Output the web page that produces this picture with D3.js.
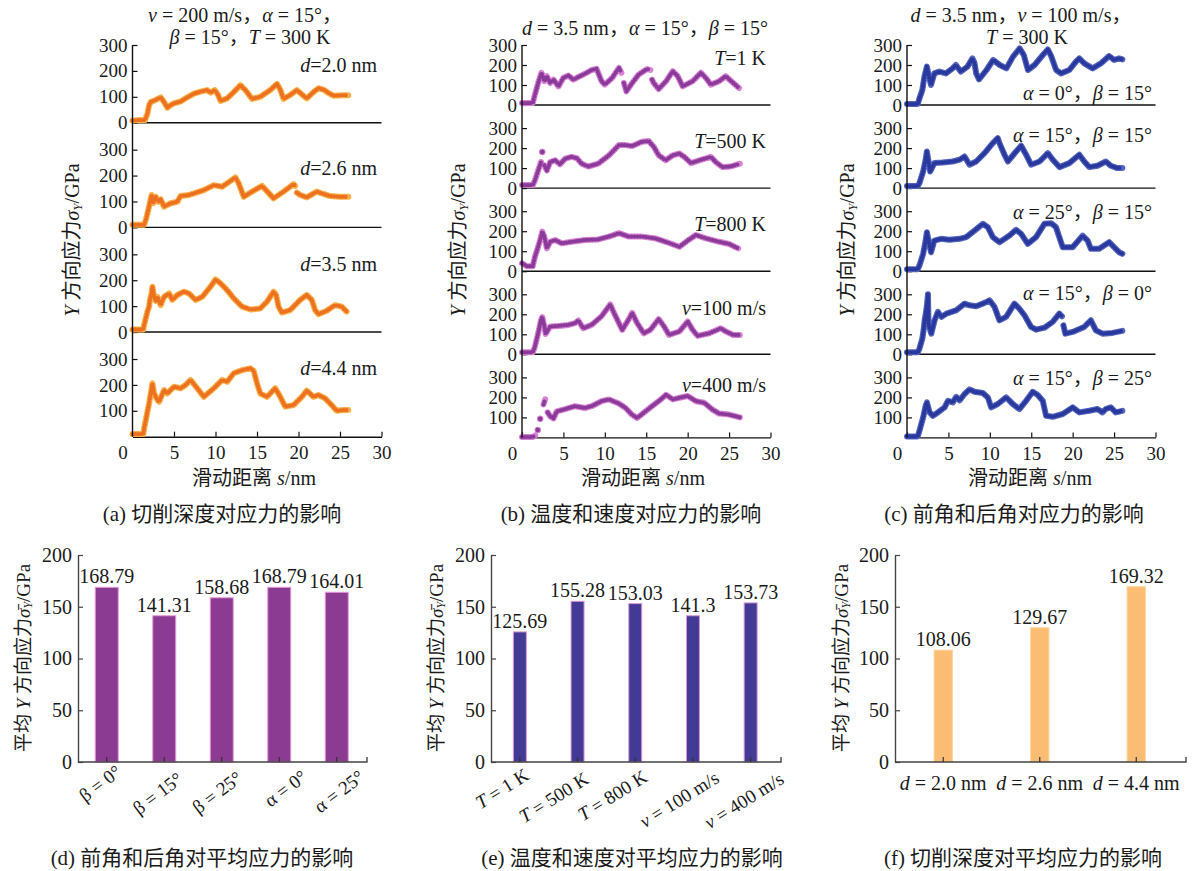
<!DOCTYPE html>
<html>
<head>
<meta charset="utf-8">
<script src="https://cdn.jsdelivr.net/npm/d3@7"></script>
<style>
  body { margin: 0; background: #fff; }
  svg text { font-family: "Liberation Serif", "Noto Sans CJK SC", serif; fill: #1a1a1a; }
</style>
</head>
<body>
<svg id="fig" width="1198" height="871"></svg>
<script>
// ---------- stress histories: [sliding distance s (nm), σY (GPa)]; null breaks the trace ----------
// (a) cutting depth
const stressD20 = [[0,8],[0.8,10],[1.5,10],[1.8,35],[2.0,68],[2.2,80],[2.8,88],[3.4,98],[3.8,80],[4.2,58],[4.6,68],[5.0,75],[5.8,82],[6.6,98],[7.4,112],[8.2,120],[9.0,126],[9.4,116],[9.9,126],[10.3,108],[10.6,84],[11.4,94],[12.2,118],[13.0,145],[13.6,126],[14.4,92],[15.4,100],[16.6,126],[17.4,150],[17.8,128],[18.2,92],[19.0,107],[19.8,126],[20.6,104],[21.0,94],[21.8,118],[22.4,133],[23.0,128],[23.6,115],[24.2,104],[25.4,106],[26.0,106]];
const stressD26 = [[0,10],[1.4,10],[1.6,28],[1.9,67],[2.3,125],[2.5,93],[2.8,118],[3.1,99],[3.4,108],[3.8,80],[4.6,93],[5.4,99],[5.8,121],[6.8,125],[7.4,131],[8.6,144],[9.8,163],[10.8,157],[11.4,170],[12.4,193],[12.8,170],[13.4,118],[14.4,138],[15.6,160],[16.2,140],[17.0,112],[18.2,138],[19.4,167],[19.6,160],null,[19.8,134],[20.2,125],[21.0,116],[22.2,138],[23.0,129],[23.8,121],[25.0,118],[26.0,118]];
const stressD35 = [[0,10],[1.3,10],[1.4,27],[1.6,53],[1.8,79],[2.0,98],[2.1,124],[2.3,149],[2.4,175],[2.6,136],[2.8,120],[3.0,136],[3.4,104],[3.8,136],[4.4,149],[4.8,124],[5.4,143],[6.2,156],[6.8,149],[7.6,124],[8.4,136],[9.4,175],[10.0,203],[10.6,188],[11.4,162],[12.2,130],[13.2,98],[14.2,87],[15.4,91],[16.2,117],[17.0,156],[17.3,143],[17.6,98],[18.0,75],[19.0,85],[20.2,124],[21.0,143],[21.6,124],[22.0,85],[22.4,69],[23.4,82],[24.4,104],[25.2,98],[25.8,79]];
const stressD44 = [[0,10],[1.3,10],[1.4,32],[1.6,64],[1.8,97],[2.0,129],[2.2,167],[2.4,206],[2.6,167],[3.0,142],[3.2,135],[3.8,180],[4.2,167],[5.0,193],[5.8,187],[6.4,200],[7.0,219],[7.8,187],[8.6,154],[9.8,187],[10.8,219],[11.4,212],[12.2,245],[13.2,257],[14.2,264],[14.6,255],[15.0,206],[15.4,167],[16.2,154],[17.2,187],[17.8,154],[18.4,116],[19.4,122],[20.4,154],[21.0,178],[21.8,154],[22.4,161],[23.2,148],[24.0,122],[24.6,100],[25.4,103],[26.0,103]];

// (b) temperature and speed
const stressT1 = [[0,10],[1.3,10],[1.5,42],[1.95,110],[2.35,161],[2.7,119],[3.0,144],[3.4,110],[3.8,127],[4.4,93],[5.0,136],[5.6,147],[6.2,127],[7.0,144],[7.8,161],[8.4,175],[9.0,181],[9.6,119],[10.0,102],[10.9,136],[11.7,186],[12.0,161],null,[12.3,110],[12.6,68],[13.3,110],[14.1,153],[15.1,180],[15.5,175],null,[15.7,127],[15.9,110],[16.5,80],[17.4,119],[18.2,169],[18.8,144],[19.4,93],[20.6,119],[21.6,161],[22.2,135],[22.8,102],[23.8,119],[24.6,144],[25.5,110],[26.2,85]];
const stressT500 = [[0,15],[1.3,15],[1.55,37],[1.95,88],[2.3,130],null,[2.45,181],null,[2.7,114],[3.0,88],[3.4,130],[4.0,139],[4.6,119],[5.2,147],[6.0,156],[6.6,150],[7.2,122],[8.0,108],[9.2,122],[10.5,164],[11.7,215],[12.5,215],[13.3,210],[14.5,232],[15.3,235],[15.9,207],[16.5,164],[17.35,139],[18.2,164],[19.0,173],[19.6,156],[20.4,125],[21.4,139],[22.8,156],[23.4,130],[24.2,105],[25.2,108],[26.3,122]];
const stressT800 = [[0,40],[0.6,25],[1.3,25],[1.55,71],[1.95,122],[2.3,173],[2.45,198],[2.7,173],[3.0,114],[3.4,147],[4.0,156],[4.8,139],[6.0,147],[7.6,156],[9.2,159],[10.5,173],[11.7,190],[12.9,173],[14.5,173],[16.1,164],[17.35,147],[19.0,122],[20.2,159],[21.0,181],[22.2,164],[23.8,147],[25.0,136],[26.1,114]];
const stressV100 = [[0,10],[1.3,10],[1.55,37],[1.95,105],[2.3,173],[2.45,186],[2.7,140],[2.85,102],[3.4,139],[4.4,142],[5.6,147],[6.4,156],[6.8,169],[7.4,130],[8.4,147],[9.6,190],[10.65,249],[11.1,207],[11.7,156],[12.1,122],[12.9,176],[13.3,207],[13.9,156],[14.7,105],[15.5,122],[16.5,176],[17.15,139],[17.75,97],[19.0,114],[20.0,164],[20.6,122],[21.2,92],[22.6,105],[24.0,130],[24.6,114],[25.5,97],[26.3,97]];
const stressV400 = [[0,2],[1.3,2],[1.6,10],null,[1.9,37],null,[2.2,93],null,[2.6,165],[2.8,190],null,[3.1,125],[3.4,105],[3.8,95],[4.2,130],[5.0,139],[6.4,156],[7.6,147],[8.4,156],[9.6,181],[10.5,190],[11.7,169],[12.5,147],[13.3,113],[13.9,97],[14.9,130],[15.7,156],[16.5,181],[17.4,213],[18.2,190],[19.0,198],[20.0,207],[21.0,181],[22.0,173],[23.0,139],[23.8,119],[25.0,114],[26.3,100]];

// (c) rake angle α and clearance angle β
const stressA0B15 = [[0,5],[1.3,5],[1.5,33],[1.85,75],[2.1,142],[2.4,192],[2.65,142],[2.9,100],[3.3,158],[3.9,167],[4.7,158],[5.5,183],[5.9,200],[6.5,167],[7.3,192],[7.9,233],[8.15,210],[8.35,158],[8.7,128],[9.6,175],[10.4,225],[11.2,200],[12.0,183],[12.8,242],[13.6,283],[14.1,250],[14.6,175],[15.4,200],[16.4,250],[17.0,278],[17.4,245],[18.0,175],[18.6,158],[19.6,175],[20.4,217],[20.8,233],[21.4,208],[22.4,183],[23.4,208],[24.4,245],[25.0,225],[25.6,233],[26.0,228]];
const stressA15B15 = [[0,10],[1.3,10],[1.5,25],[1.95,83],[2.25,142],[2.4,183],[2.65,120],[2.8,83],[3.3,125],[4.3,128],[5.5,133],[6.35,142],[6.95,158],[7.55,117],[8.35,133],[9.36,175],[10.36,225],[10.96,250],[11.16,225],[11.77,167],[12.17,133],[13.17,183],[13.78,212],[14.38,167],[14.98,117],[16.0,133],[17.0,175],[17.6,142],[18.4,105],[19.6,125],[20.8,167],[21.4,133],[22.0,105],[23.0,112],[24.0,133],[24.6,112],[25.4,100],[26.0,100]];
const stressA25B15 = [[0,10],[1.3,10],[1.5,28],[1.95,87],[2.25,153],[2.4,195],[2.65,145],[2.9,95],[3.3,153],[4.1,162],[5.1,157],[6.35,162],[7.15,170],[8.15,203],[9.16,237],[9.76,220],[10.36,170],[11.16,145],[12.37,178],[13.17,207],[13.78,187],[14.58,137],[15.58,170],[16.59,237],[17.39,240],[17.99,220],[18.39,170],[18.8,120],[20.0,120],[21.2,178],[21.8,153],[22.2,112],[23.2,112],[24.4,145],[25.0,120],[25.6,95],[26.0,87]];
const stressA15B0 = [[0,10],[1.3,10],[1.5,28],[1.85,78],[2.0,120],[2.13,170],[2.33,220],[2.45,262],[2.53,300],[2.6,150],[2.93,103],[3.33,170],[3.73,212],[4.14,187],[4.74,203],[5.94,220],[6.95,253],[7.55,245],[8.35,240],[9.36,257],[9.96,270],[10.56,237],[11.16,170],[11.97,187],[12.97,253],[13.57,228],[14.18,195],[14.98,137],[15.58,123],[16.59,133],[17.59,162],[18.39,203],[18.71,190],null,[18.88,145],[19.12,103],[20.0,112],[21.4,137],[22.2,170],[22.8,120],[23.6,103],[24.8,107],[26.0,117]];
const stressA15B25 = [[0,5],[1.3,5],[1.5,33],[1.95,100],[2.25,158],[2.41,175],[2.73,125],[3.13,108],[3.73,125],[4.54,150],[4.94,183],[5.54,175],[5.94,203],[6.35,185],[6.95,217],[7.55,240],[8.15,228],[9.16,222],[9.76,200],[10.16,150],[10.96,167],[11.97,200],[12.77,167],[13.57,142],[14.38,183],[15.18,228],[15.78,212],[16.39,183],[16.79,108],[17.59,103],[18.8,117],[20.0,150],[20.8,125],[22.0,133],[23.0,142],[23.6,125],[24.0,142],[24.6,150],[25.2,125],[26.0,133]];

// curve labels (* marks italic)
const depthLabels = ["*d*=2.0 nm", "*d*=2.6 nm", "*d*=3.5 nm", "*d*=4.4 nm"];
const tempSpeedLabels = ["*T*=1 K", "*T*=500 K", "*T*=800 K", "*v*=100 m/s", "*v*=400 m/s"];
const angleLabels = ["*α* = 0°，*β* = 15°", "*α* = 15°，*β* = 15°", "*α* = 25°，*β* = 15°", "*α* = 15°，*β* = 0°", "*α* = 15°，*β* = 25°"];

const stressTicks = [0, 100, 200, 300];
const distanceTicks = [0, 5, 10, 15, 20, 25, 30];

// ---------- mean stresses ----------
const angleCases = ["β = 0°", "β = 15°", "β = 25°", "α = 0°", "α = 25°"];
const angleMeans = [168.79, 141.31, 158.68, 168.79, 164.01];
const tempSpeedCases = ["*T* = 1 K", "*T* = 500 K", "*T* = 800 K", "*v* = 100 m/s", "*v* = 400 m/s"];
const tempSpeedMeans = [125.69, 155.28, 153.03, 141.3, 153.73];
const depthCases = ["*d* = 2.0 nm", "*d* = 2.6 nm", "*d* = 4.4 nm"];
const depthMeans = [108.06, 129.67, 169.32];
const meanTicks = [0, 50, 100, 150, 200];

const svg = d3.select("#fig");

// text with *italic* and _subscript_ runs
function rich(sel, str, subSize = 12) {
  const parts = str.split(/(\*[^*]+\*|_[^_]+_)/).filter(s => s.length);
  let lowered = false;
  parts.forEach(p => {
    const t = sel.append("tspan");
    if (p[0] === "_") {
      t.text(p.slice(1, -1)).attr("font-style", "italic").attr("font-size", subSize).attr("dy", 5);
      lowered = true;
      return;
    }
    if (p[0] === "*") t.text(p.slice(1, -1)).attr("font-style", "italic");
    else t.text(p);
    if (lowered) { t.attr("dy", -5); lowered = false; }
  });
  return sel;
}

function label(x, y, str, size, anchor = "middle", rotate = 0) {
  const t = svg.append("text")
    .attr("font-size", size)
    .attr("text-anchor", anchor)
    .attr("dominant-baseline", "central")
    .attr("transform", `translate(${x},${y}) rotate(${rotate})`);
  return rich(t, str, Math.round(size * 0.65));
}

// ---------- stacked stress–distance panels ----------
function tracePanel(cfg) {
  const g = svg.append("g");
  const x = d3.scaleLinear().domain([0, 30]).range([cfg.x0, cfg.x1]);
  const n = cfg.series.length;
  const lastBase = cfg.base0 + (n - 1) * cfg.step;

  cfg.series.forEach((data, i) => {
    const base = cfg.base0 + i * cfg.step;
    const y = d3.scaleLinear().domain([0, 300]).range([base, base - cfg.h300]);
    const last = i === n - 1;

    const ya = g.append("g").attr("transform", `translate(${cfg.x0},0)`)
      .call(d3.axisLeft(y).tickValues(last ? stressTicks.slice(1) : stressTicks)
        .tickSize(-5).tickPadding(5).tickFormat(d3.format("d")));
    ya.select(".domain").remove();
    ya.selectAll("line").attr("stroke", "#111").attr("stroke-width", 1.2);
    ya.selectAll("text").attr("font-size", 19).attr("font-family", "Liberation Serif").attr("fill", "#1a1a1a");

    if (!last) {
      g.append("line").attr("x1", cfg.x0).attr("x2", cfg.x1).attr("y1", base).attr("y2", base)
        .attr("stroke", "#111").attr("stroke-width", 1.4);
    } else {
      const xa = g.append("g").attr("transform", `translate(0,${base})`)
        .call(d3.axisBottom(x).tickValues(distanceTicks).tickSize(-5).tickPadding(9).tickSizeOuter(0));
      xa.select(".domain").attr("stroke", "#111").attr("stroke-width", 1.4);
      xa.selectAll("line").attr("stroke", "#111").attr("stroke-width", 1.2);
      xa.selectAll("text").attr("font-size", 19).attr("font-family", "Liberation Serif").attr("fill", "#1a1a1a");
      xa.selectAll(".tick").filter(d => d === 0).select("text").attr("dx", -10);
    }

    const line = d3.line().defined(d => d != null).x(d => x(d[0])).y(d => y(d[1]));
    g.append("path").attr("d", line(data)).attr("fill", "none")
      .attr("stroke", cfg.halo).attr("stroke-width", 6)
      .attr("stroke-linejoin", "round").attr("stroke-linecap", "round");
    g.append("path").attr("d", line(data)).attr("fill", "none")
      .attr("stroke", cfg.core).attr("stroke-width", 4.2)
      .attr("stroke-linejoin", "round").attr("stroke-linecap", "round")
      .attr("stroke-dasharray", "0 2.9");
    // lone samples between breaks
    const lone = data.filter((d, k) => d && !data[k - 1] && !data[k + 1] && k > 0);
    g.selectAll(null).data(lone).join("circle")
      .attr("cx", d => x(d[0])).attr("cy", d => y(d[1])).attr("r", 2.8)
      .attr("fill", cfg.core).attr("stroke", cfg.halo).attr("stroke-width", 1);

    label(cfg.labelX, base - cfg.labelRise[i], cfg.labels[i], 20, "end");
  });

  g.append("line").attr("x1", cfg.x0).attr("x2", cfg.x0)
    .attr("y1", cfg.base0 - cfg.h300).attr("y2", lastBase)
    .attr("stroke", "#111").attr("stroke-width", 1.4);

  cfg.title.forEach(t => label(t[0], t[1], t[2], 20));
  label(cfg.yTitleX, 240, "*Y* 方向应力*σ*_Y_/GPa", 20, "middle", -90);
  label(cfg.xTitleX, 478, "滑动距离 *s*/nm", 20);
  label(cfg.captionX, 514, cfg.caption, 21);
}

tracePanel({
  series: [stressD20, stressD26, stressD35, stressD44], labels: depthLabels,
  x0: 132.5, x1: 381.5, base0: 122.7, step: 104.67, h300: 77.7,
  core: "#ec7020", halo: "#f8b14a",
  labelX: 377, labelRise: [58, 59, 68, 69],
  title: [[245, 15, "*v* = 200 m/s，*α* = 15°，"], [250, 37, "*β* = 15°，*T* = 300 K"]],
  yTitleX: 72, xTitleX: 254, captionX: 222, caption: "(a) 切削深度对应力的影响"
});

tracePanel({
  series: [stressT1, stressT500, stressT800, stressV100, stressV400], labels: tempSpeedLabels,
  x0: 522, x1: 770.5, base0: 105, step: 83.1, h300: 60,
  core: "#8a3a98", halo: "#d882d4",
  labelX: 766, labelRise: [47, 47, 47, 46, 52],
  title: [[645, 28, "*d* = 3.5 nm，*α* = 15°，*β* = 15°"]],
  yTitleX: 458, xTitleX: 643, captionX: 631, caption: "(b) 温度和速度对应力的影响"
});

tracePanel({
  series: [stressA0B15, stressA15B15, stressA25B15, stressA15B0, stressA15B25], labels: angleLabels,
  x0: 907, x1: 1155.5, base0: 105, step: 83.1, h300: 60,
  core: "#28389c", halo: "#5565bd",
  labelX: 1152, labelRise: [12, 53, 59, 61, 59],
  title: [[1021, 15, "*d* = 3.5 nm，*v* = 100 m/s，"], [1027, 37, "*T* = 300 K"]],
  yTitleX: 847, xTitleX: 1030, captionX: 1014, caption: "(c) 前角和后角对应力的影响"
});

// ---------- mean-stress bar panels ----------
function barPanel(cfg) {
  const g = svg.append("g");
  const x = d3.scaleBand().domain(cfg.cases).range([cfg.x0, cfg.x1])
    .paddingInner(cfg.pad).paddingOuter(cfg.pad / 2);
  const y = d3.scaleLinear().domain([0, 200]).range([762, 555]);

  g.selectAll(null).data(cfg.values).join("rect")
    .attr("x", (d, i) => x(cfg.cases[i])).attr("width", x.bandwidth())
    .attr("y", d => y(d)).attr("height", d => y(0) - y(d))
    .attr("fill", cfg.fill).attr("stroke", cfg.edge).attr("stroke-width", 1);

  g.selectAll(null).data(cfg.values).join("text")
    .attr("x", (d, i) => x(cfg.cases[i]) + x.bandwidth() / 2)
    .attr("y", d => y(d) - 4)
    .attr("text-anchor", "middle").attr("font-size", 20)
    .text(d => d);

  const ya = g.append("g").attr("transform", `translate(${cfg.x0},0)`)
    .call(d3.axisLeft(y).tickValues(meanTicks).tickSize(-5).tickPadding(6).tickSizeOuter(0));
  ya.select(".domain").attr("stroke", "#444").attr("stroke-width", 1.4);
  ya.selectAll("line").attr("stroke", "#444").attr("stroke-width", 1.2);
  ya.selectAll("text").attr("font-size", 20).attr("font-family", "Liberation Serif").attr("fill", "#1a1a1a");

  const xa = g.append("g").attr("transform", `translate(0,${y(0)})`)
    .call(d3.axisBottom(x).tickSize(-5).tickSizeOuter(0).tickFormat(""));
  xa.select(".domain").attr("stroke", "#444").attr("stroke-width", 1.4)
    .attr("d", `M${cfg.x0},0H${cfg.axisEnd}V-5`);
  xa.selectAll("line").attr("stroke", "#333").attr("stroke-width", 1.2);

  cfg.cases.forEach((c, i) => {
    const cx = x(c) + x.bandwidth() / 2;
    if (cfg.angle) label(cx + cfg.dx[i], cfg.ly[i], c, 19, "middle", cfg.angle);
    else label(cx, 783, c, 20);
  });

  label(cfg.yTitleX, 658, "平均 *Y* 方向应力*σ̄*_Y_/GPa", 19, "middle", -90);
  label(cfg.captionX, 858, cfg.caption, 21);
}

barPanel({
  cases: angleCases, values: angleMeans, x0: 78, x1: 365.5, pad: 0.6, axisEnd: 367,
  fill: "#8c3b93", edge: "#e79bd8", angle: -37,
  dx: [-7, -7, -5, 6, 2], ly: [783, 793, 792, 788, 791],
  yTitleX: 23, captionX: 202, caption: "(d) 前角和后角对平均应力的影响"
});

barPanel({
  cases: tempSpeedCases, values: tempSpeedMeans, x0: 491, x1: 779.5, pad: 0.775, axisEnd: 781,
  fill: "#433a95", edge: "#d89ad2", angle: -32,
  dx: [-18, -24, -23, -14, -7], ly: [788, 797, 795, 799, 800],
  yTitleX: 436, captionX: 632, caption: "(e) 温度和速度对平均应力的影响"
});

barPanel({
  cases: depthCases, values: depthMeans, x0: 895, x1: 1184.5, pad: 0.81, axisEnd: 1186,
  fill: "#fbbd74", edge: "#fdd49a", angle: 0,
  yTitleX: 841, captionX: 1023, caption: "(f) 切削深度对平均应力的影响"
});
</script>
</body>
</html>
